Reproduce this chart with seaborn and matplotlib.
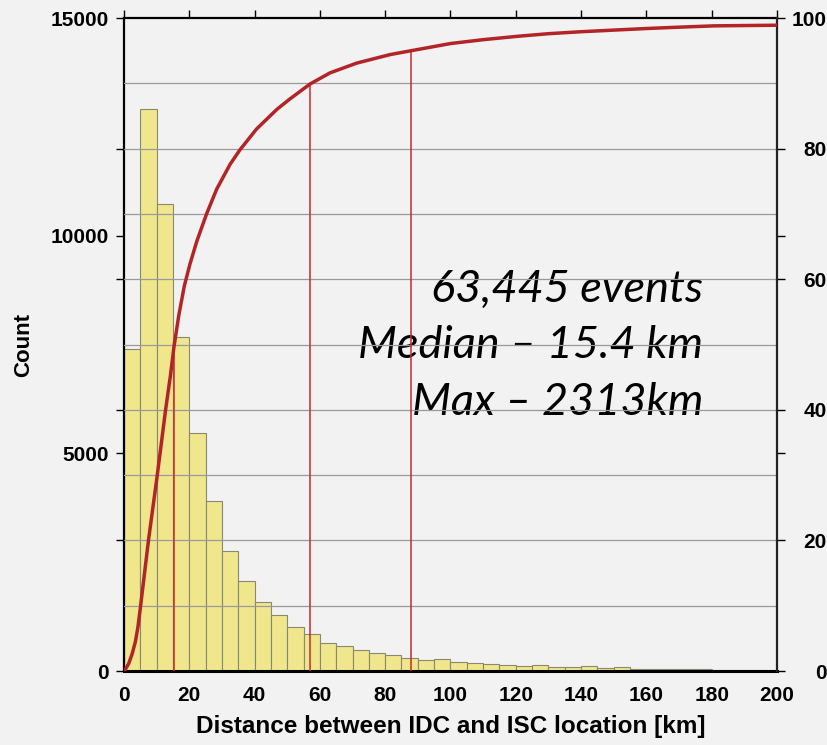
import numpy as np
import pandas as pd
import matplotlib
matplotlib.use("Agg")
import matplotlib.pyplot as plt
import seaborn as sns

# histogram: 5 km bins from 0 to 200 km, counts
bin_left = list(range(0, 200, 5))
counts = [7400, 12910, 10730, 7670, 5470, 3910, 2760, 2075, 1585, 1280,
          1020, 850, 650, 565, 480, 405, 360, 305, 255, 275,
          200, 175, 160, 145, 120, 145, 85, 85, 105, 75,
          85, 55, 45, 55, 45, 45, 25, 25, 20, 15]

# cumulative distribution (percent of events)
cdf_km = [0, 0.5, 1.5, 2.55, 3.5, 4.3, 5.1, 7.5, 10.2, 12.75, 14.3, 15.3,
          16.8, 18.5, 20.2, 22.3, 25.3, 28.4, 32.5, 35.5, 40.6, 46.8, 50.8,
          57.0, 63.1, 71.3, 81.5, 88.0, 100.1, 110.3, 120.5, 130.0, 139.9,
          150.0, 160.3, 170.0, 180.7, 190.0, 200]
cdf_pct = [0, 0.3, 1.2, 2.7, 4.5, 6.8, 10.0, 20.0, 30.0, 40.0, 45.5, 49.6,
           54.5, 59.0, 62.3, 65.8, 70.0, 73.8, 77.6, 79.8, 83.0, 86.0, 87.6,
           89.9, 91.6, 93.1, 94.4, 95.0, 96.1, 96.7, 97.2, 97.6, 97.9,
           98.15, 98.4, 98.6, 98.8, 98.85, 98.9]

# median, 90% and 95% markers
mark_km = [15.4, 57, 88]
mark_pct = [50, 90, 95]

grid_pct = [10, 20, 30, 40, 50, 60, 70, 80, 90]

notes = ["63,445 events", "Median \u2013 15.4 km", "Max \u2013 2313km"]

df = pd.DataFrame({"dist": np.array(bin_left) + 2.5, "n": counts})

sns.set_theme(style="white")
plt.rcParams["font.family"] = ["Liberation Sans", "DejaVu Sans"]
plt.rcParams["text.color"] = "black"
plt.rcParams["axes.labelcolor"] = "black"
plt.rcParams["xtick.color"] = "black"
plt.rcParams["ytick.color"] = "black"
bg = "#f2f2f2"

fig = plt.figure(figsize=(8.27, 7.45), dpi=100)
fig.patch.set_facecolor(bg)
ax = fig.add_axes([0.1499, 0.0993, 0.7896, 0.8765])
ax.set_facecolor(bg)

sns.histplot(data=df, x="dist", weights="n", binwidth=5, binrange=(0, 200),
             ax=ax, color="#f0e68c", edgecolor="#8a8870", linewidth=0.8,
             alpha=1)

ax.set_xlim(0, 200)
ax.set_ylim(0, 15000)
ax.set_xticks(range(0, 201, 20))
ax.set_yticks([0, 5000, 10000, 15000])
ax.set_yticks([3000, 6000, 9000, 12000], minor=True)
ax.tick_params(axis="both", which="both", direction="out", length=5.8,
               width=1, color="black", labelcolor="black", labelsize=15,
               pad=5)
ax.tick_params(axis="x", top=True)
for lab in ax.get_xticklabels() + ax.get_yticklabels():
    lab.set_fontweight("bold")
ax.set_xlabel("Distance between IDC and ISC location [km]",
              fontsize=17.5, fontweight="bold", labelpad=7, color="black")
ax.set_ylabel("Count", fontsize=16, fontweight="bold", labelpad=12,
              color="black")

ax2 = ax.twinx()
for y in grid_pct:
    ax2.axhline(y, color="#9a9a9a", lw=0.9, zorder=1)
ax2.vlines(mark_km, 0, mark_pct, color="#c8282d", lw=1.1, zorder=2)
sns.lineplot(x=cdf_km, y=cdf_pct, ax=ax2, color="#b22427", lw=2.5,
             zorder=3, sort=False)
ax2.set_ylim(0, 100)
ax2.set_xlim(0, 200)
ax2.set_yticks(range(0, 101, 20), [str(v) for v in range(0, 101, 20)],
               ha="right", fontweight="bold")
ax2.set_yticks([100 / 3, 200 / 3], minor=True)
ax2.tick_params(axis="y", which="both", direction="out", length=5.8,
                width=1, color="black", labelcolor="black", labelsize=15,
                pad=30.2)
ax2.set_ylabel("")

for s in ["left", "top"]:
    ax.spines[s].set_linewidth(1.6)
    ax.spines[s].set_color("black")
ax.spines["bottom"].set_linewidth(2.2)
ax.spines["bottom"].set_color("black")
ax2.spines["right"].set_linewidth(1.6)
ax2.spines["right"].set_color("#222222")
for s in ["left", "top", "bottom"]:
    ax2.spines[s].set_visible(False)
ax.spines["right"].set_visible(False)

ys = [0.5655, 0.4793, 0.392]
for t, y in zip(notes, ys):
    ax.text(0.8867, y, t, transform=ax.transAxes, ha="right", va="baseline",
            fontsize=32.5, style="italic", family=["Lato", "DejaVu Sans"],
            color="black", zorder=5)

fig.savefig("out.png", dpi=100, facecolor=bg)
